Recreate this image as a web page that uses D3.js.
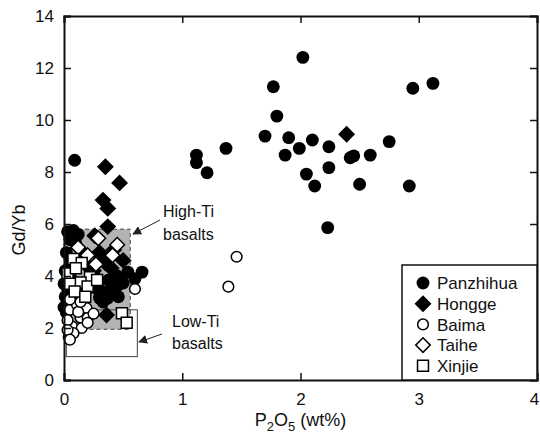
<!DOCTYPE html>
<html>
<head>
<meta charset="utf-8">
<script src="https://cdn.jsdelivr.net/npm/d3@7"></script>
<style>
	body { margin: 0; background: #fff; }
	text { font-family: "Liberation Sans", Arial, sans-serif; fill: #111; }
</style>
</head>
<body>
<svg id="plot" width="540" height="439" viewBox="0 0 540 439"></svg>
<script>
// P2O5 (wt%), Gd/Yb pairs
const panzhihua = [
	[0.09, 8.45], [1.12, 8.65], [1.12, 8.36], [1.21, 7.97], [1.37, 8.91], [1.70, 9.38],
	[1.77, 11.28], [1.80, 10.15], [1.87, 8.65], [1.90, 9.32], [1.99, 8.91], [2.02, 12.41],
	[2.05, 7.92], [2.10, 9.23], [2.12, 7.46], [2.23, 5.86], [2.24, 8.97], [2.24, 8.17],
	[2.42, 8.55], [2.45, 8.62], [2.50, 7.53], [2.59, 8.65], [2.75, 9.17], [2.92, 7.46],
	[2.95, 11.22], [3.12, 11.41],
	[0.03, 5.70], [0.08, 5.75], [0.12, 5.60], [0.05, 5.40], [0.10, 5.25], [0.02, 4.90],
	[0.06, 4.60], [0.01, 4.20], [0.04, 4.00], [0.00, 3.70], [0.03, 3.50], [0.01, 3.20],
	[0.04, 3.00], [0.00, 2.80], [0.02, 2.60], [0.06, 3.90], [0.07, 3.30], [0.05, 4.40],
	[0.15, 4.90], [0.30, 3.15], [0.37, 3.15], [0.46, 3.20], [0.50, 3.73], [0.54, 4.15],
	[0.66, 4.15], [0.42, 3.60], [0.35, 3.40], [0.28, 3.50], [0.45, 4.00], [0.25, 3.90],
	[0.20, 4.40], [0.30, 4.60], [0.38, 3.85], [0.60, 3.90], [0.40, 3.35], [0.33, 3.00]
];
const hongge = [
	[0.35, 8.20], [0.47, 7.58], [0.33, 6.92], [0.37, 6.60], [0.37, 5.90], [2.39, 9.45],
	[0.36, 2.50], [0.30, 4.90], [0.35, 4.50], [0.25, 4.20], [0.40, 4.30], [0.30, 3.80],
	[0.45, 3.60], [0.20, 3.50], [0.35, 3.30], [0.50, 4.60], [0.26, 5.55], [0.42, 5.00]
];
const baima = [
	[1.46, 4.74], [1.39, 3.59], [0.60, 3.50], [0.05, 2.70], [0.11, 2.90], [0.19, 2.77],
	[0.14, 2.40], [0.20, 2.38], [0.07, 2.05], [0.15, 2.00], [0.04, 1.65], [0.08, 1.80],
	[0.25, 2.55], [0.03, 2.30], [0.12, 2.62], [0.20, 2.20], [0.05, 3.10], [0.14, 3.00],
	[0.03, 1.92], [0.05, 1.55]
];
const taihe = [
	[0.12, 5.10], [0.20, 4.80], [0.29, 5.45], [0.45, 5.20], [0.41, 4.80], [0.27, 4.45]
];
const xinjie = [
	[0.08, 4.65], [0.15, 4.50], [0.03, 4.10], [0.10, 4.30], [0.22, 3.95], [0.14, 3.75],
	[0.20, 3.60], [0.05, 3.70], [0.09, 3.40], [0.18, 3.20], [0.28, 3.85], [0.49, 2.57],
	[0.53, 2.20]
];

const seriesNames = ["Panzhihua", "Hongge", "Baima", "Taihe", "Xinjie"];
const xTicks = [0, 1, 2, 3, 4];
const yTicks = [0, 2, 4, 6, 8, 10, 12, 14];
const highTiBox = [0, 0.56, 1.95, 5.8];   // x0, x1, y0, y1
const lowTiBox = [0.02, 0.62, 0.9, 2.7];

const svg = d3.select("#plot");
const m = {left: 64, right: 537, top: 16, bottom: 380};

const x = d3.scaleLinear().domain([0, 4]).range([m.left, m.right]);
const y = d3.scaleLinear().domain([0, 14]).range([m.bottom, m.top]);

// boxes behind the points
svg.append("rect")
	.attr("x", x(highTiBox[0])).attr("y", y(highTiBox[3]))
	.attr("width", x(highTiBox[1]) - x(highTiBox[0]))
	.attr("height", y(highTiBox[2]) - y(highTiBox[3]))
	.style("fill", "#b3b3b3")
	.style("stroke", "#444")
	.style("stroke-width", 1)
	.style("stroke-dasharray", "4,3");

svg.append("rect")
	.attr("x", x(lowTiBox[0])).attr("y", y(lowTiBox[3]))
	.attr("width", x(lowTiBox[1]) - x(lowTiBox[0]))
	.attr("height", y(lowTiBox[2]) - y(lowTiBox[3]))
	.style("fill", "none")
	.style("stroke", "#444")
	.style("stroke-width", 1);

// marker shapes
const shapes = {
	Panzhihua: {type: d3.symbolCircle, size: 130, fill: "#000"},
	Hongge: {type: d3.symbolDiamond2, size: 100, fill: "#000", scale: 1.35},
	Baima: {type: d3.symbolCircle, size: 90, fill: "#fff"},
	Taihe: {type: d3.symbolDiamond2, size: 80, fill: "#fff", scale: 1.3},
	Xinjie: {type: d3.symbolSquare, size: 120, fill: "#fff"}
};

function symbolPath(name) {
	const s = shapes[name];
	return d3.symbol().type(s.type).size(s.size)();
}

const allData = {Panzhihua: panzhihua, Hongge: hongge, Baima: baima, Taihe: taihe, Xinjie: xinjie};

const points = svg.append("g");
seriesNames.forEach(name => {
	const s = shapes[name];
	points.selectAll(".pt-" + name)
		.data(allData[name])
		.enter()
		.append("path")
		.attr("class", "pt-" + name)
		.attr("d", symbolPath(name))
		.attr("transform", d => "translate(" + x(d[0]) + "," + y(d[1]) + ")" + (s.scale ? " scale(" + s.scale + ")" : ""))
		.style("fill", s.fill)
		.style("stroke", "#000")
		.style("stroke-width", s.fill == "#000" ? 0 : (s.scale ? 1.5 / s.scale : 1.5));
});

// axes, ticks pointing inward on all four sides
const axisB = d3.axisBottom(x).tickValues(xTicks).tickSize(-7).tickPadding(13).tickFormat(d3.format("d"));
const axisT = d3.axisTop(x).tickValues(xTicks).tickSize(-7).tickFormat("");
const axisL = d3.axisLeft(y).tickValues(yTicks).tickSize(-7).tickPadding(10).tickFormat(d3.format("d"));
const axisR = d3.axisRight(y).tickValues(yTicks).tickSize(-7).tickFormat("");

const gB = svg.append("g").attr("transform", "translate(0," + m.bottom + ")").call(axisB);
const gT = svg.append("g").attr("transform", "translate(0," + m.top + ")").call(axisT);
const gL = svg.append("g").attr("transform", "translate(" + m.left + ",0)").call(axisL);
const gR = svg.append("g").attr("transform", "translate(" + m.right + ",0)").call(axisR);

[gB, gT, gL, gR].forEach(g => {
	g.select(".domain").style("stroke", "#111").style("stroke-width", 2);
	g.selectAll(".tick line").style("stroke", "#111").style("stroke-width", 1.5);
	g.selectAll(".tick text").style("font-size", "17px").style("font-family", "Liberation Sans, Arial, sans-serif").style("fill", "#111");
});
// last x label sits against the page edge; keep it inside
gB.selectAll(".tick text").filter(d => d == 4).attr("text-anchor", "end").attr("dx", "0.1em");

// axis titles
svg.append("text")
	.attr("transform", "translate(25," + 230 + ") rotate(-90)")
	.attr("text-anchor", "middle")
	.style("font-size", "18px")
	.text("Gd/Yb");

const xTitle = svg.append("text")
	.attr("x", (m.left + m.right) / 2)
	.attr("y", 426)
	.attr("text-anchor", "middle")
	.style("font-size", "18px");
xTitle.append("tspan").text("P");
xTitle.append("tspan").attr("dy", 5).style("font-size", "13px").text("2");
xTitle.append("tspan").attr("dy", -5).text("O");
xTitle.append("tspan").attr("dy", 5).style("font-size", "13px").text("5");
xTitle.append("tspan").attr("dy", -5).text(" (wt%)");

// annotations
svg.append("defs").append("marker")
	.attr("id", "arrow")
	.attr("viewBox", "0 0 10 10")
	.attr("refX", 9).attr("refY", 5)
	.attr("markerWidth", 9).attr("markerHeight", 9)
	.attr("markerUnits", "userSpaceOnUse")
	.attr("orient", "auto")
	.append("path")
	.attr("d", "M0,0 L10,5 L0,10 z")
	.style("fill", "#222");

svg.append("line")
	.attr("x1", 160).attr("y1", 220).attr("x2", 133).attr("y2", 234)
	.style("stroke", "#222").style("stroke-width", 1)
	.attr("marker-end", "url(#arrow)");
svg.append("line")
	.attr("x1", 162).attr("y1", 334).attr("x2", 139).attr("y2", 342)
	.style("stroke", "#222").style("stroke-width", 1)
	.attr("marker-end", "url(#arrow)");

[["High-Ti", 163, 217], ["basalts", 163, 240], ["Low-Ti", 172, 327], ["basalts", 172, 349]].forEach(t => {
	svg.append("text").attr("x", t[1]).attr("y", t[2]).style("font-size", "16px").text(t[0]);
});

// legend
const legend = svg.append("g");
legend.append("rect")
	.attr("x", 402).attr("y", 265)
	.attr("width", m.right - 402).attr("height", m.bottom - 265)
	.style("fill", "#fff")
	.style("stroke", "#111")
	.style("stroke-width", 1.5);

seriesNames.forEach((name, i) => {
	const s = shapes[name];
	const ly = 283 + i * 20.7;
	legend.append("path")
		.attr("d", symbolPath(name))
		.attr("transform", "translate(423," + ly + ")" + (s.scale ? " scale(" + s.scale + ")" : ""))
		.style("fill", s.fill)
		.style("stroke", "#000")
		.style("stroke-width", s.fill == "#000" ? 0 : (s.scale ? 1.5 / s.scale : 1.5));
	legend.append("text")
		.attr("x", 437).attr("y", ly)
		.attr("dy", "0.36em")
		.style("font-size", "17px")
		.text(name);
});
</script>
</body>
</html>
